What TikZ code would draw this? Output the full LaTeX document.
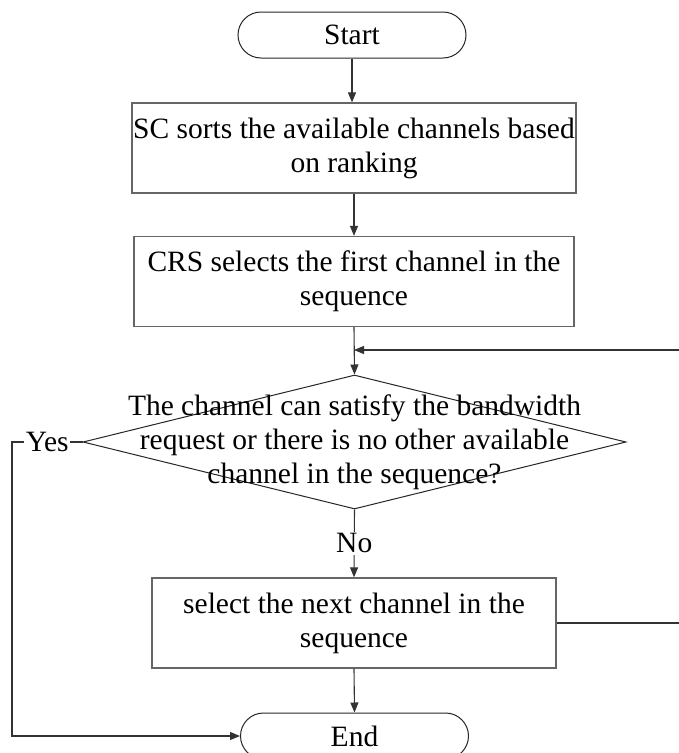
\documentclass[tikz,border=0pt]{standalone}
\usepackage{fontspec}
\setmainfont{Liberation Serif}
\usetikzlibrary{positioning,arrows.meta,shapes.geometric,shapes.misc}

\begin{document}
\begin{tikzpicture}[
  x=1pt, y=-1pt,
  font=\fontsize{29.5}{34}\selectfont,
  term/.style={rounded rectangle, draw=black!85, line width=1pt,
               minimum width=228pt, minimum height=46pt, inner sep=0pt},
  proc/.style={rectangle, draw=black!60, line width=1.3pt, align=center,
               minimum width=#1, minimum height=90pt, inner sep=0pt},
  decbox/.style={diamond, draw=black!85, line width=1pt, inner sep=0pt,
                 minimum width=543pt, minimum height=134pt},
  arr/.style={-{Triangle[length=10pt,width=8pt]}, line width=1.1pt, black!80},
  lbl/.style={fill=white, text=black, inner sep=1.5pt},
]
\useasboundingbox (0,0) rectangle (679,753);

% ---------- Nodes ----------
\node[term] (start) at (352,35) {Start};
\node[proc=444pt] (sort) at (354,148)
  {SC sorts the available channels based\\on ranking};
\node[proc=440pt] (first) at (354,281.5)
  {CRS selects the first channel in the\\sequence};
\node[decbox] (check) at (354.5,442) {};
\node[align=center, inner sep=0pt] (checktxt) at (check.center)
  {The channel can satisfy the bandwidth\\request or there is no other available\\channel in the sequence?};
\node[proc=404pt] (next) at (354,623)
  {select the next channel in the\\sequence};
\node[term] (stop) at (354.5,736) {End};

% ---------- Helper points ----------
\coordinate (merge) at (354,350);
\coordinate (yesc) at (12,442);
\coordinate (loopr) at (690,623);

% ---------- Arrows ----------
\draw[arr] (start.south) -- (start.south |- sort.north);
\draw[arr] (sort.south) -- (first.north);
\draw[arr] (first.south) -- (check.north);
\draw[arr] (check.south) -- node[lbl]{No} (next.north);
\draw[arr] (next.south) -- (stop.north);
\draw[arr] (check.west) -- node[lbl]{Yes} (yesc) |- (stop.west);
\draw[arr] (next.east) -- (loopr) |- (merge);
\end{tikzpicture}
\end{document}
